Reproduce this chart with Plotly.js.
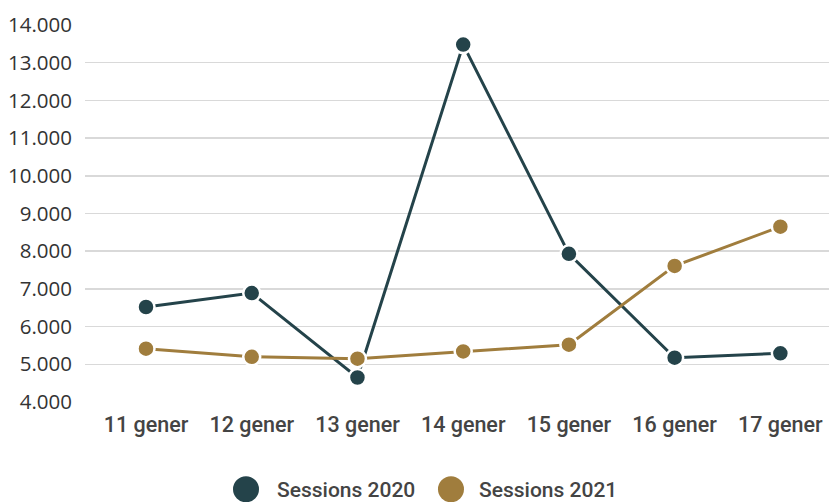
<!DOCTYPE html>
<html>
<head>
<meta charset="utf-8">
<script src="https://cdn.plot.ly/plotly-3.0.1.min.js"></script>
<style>html,body{margin:0;padding:0;background:#fff;}#chart{width:829px;height:502px;}</style>
</head>
<body>
<div id="chart"></div>
<script>
const categories = ["11 gener", "12 gener", "13 gener", "14 gener", "15 gener", "16 gener", "17 gener"];
const seriesNames = ["Sessions 2020", "Sessions 2021"];
const sessions2020 = [6520, 6890, 4650, 13480, 7930, 5175, 5290];
const sessions2021 = [5415, 5200, 5150, 5340, 5520, 7610, 8650];
const colors = ["#24434a", "#a07d3d"];

const seriesValues = [sessions2020, sessions2021];
const traces = seriesValues.map((vals, i) => ({
  type: "scatter",
  mode: "lines+markers",
  name: seriesNames[i],
  x: categories,
  y: vals,
  line: {color: colors[i], width: 3},
  marker: {color: colors[i], size: 17, line: {color: "#ffffff", width: 2.5}},
  cliponaxis: false,
  showlegend: false,
  hoverinfo: "x+y"
}));

// Manual legend (large circles)
const legendX = [0.2164, 0.4919];
const legendTextX = [0.2557, 0.5269];
const legendY = -0.2315;
const shapes = legendX.map((x, i) => ({
  type: "circle", xref: "paper", yref: "paper",
  xsizemode: "pixel", ysizemode: "pixel",
  xanchor: x, yanchor: legendY,
  x0: -13, x1: 13, y0: -13, y1: 13,
  fillcolor: colors[i], line: {width: 0}
}));
const annotations = legendTextX.map((x, i) => ({
  xref: "paper", yref: "paper", x: x, y: legendY - 0.003, xanchor: "left", yanchor: "middle",
  text: seriesNames[i], showarrow: false,
  font: {family: "Roboto", size: 21, color: "#444444", weight: 500}
}));

const layout = {
  width: 829, height: 502,
  margin: {l: 85, r: 0, t: 24.5, b: 99.5},
  paper_bgcolor: "#ffffff", plot_bgcolor: "#ffffff",
  separators: ",.",
  showlegend: false,
  xaxis: {
    type: "category",
    range: [-0.577, 6.46],
    showgrid: false, zeroline: false, showline: false,
    ticks: "", ticklabelstandoff: 7,
    tickfont: {family: "Roboto", size: 21.5, color: "#444444", weight: 500}
  },
  yaxis: {
    range: [4000, 14000],
    tickvals: [4000, 5000, 6000, 7000, 8000, 9000, 10000, 11000, 12000, 13000, 14000],
    tickformat: ",d",
    showgrid: true, gridcolor: "#d9d9d9", gridwidth: 1.5,
    zeroline: false, showline: false,
    ticks: "", ticklabelstandoff: 12,
    tickfont: {family: "Open Sans", size: 20.5, color: "#333333"}
  },
  shapes: shapes,
  annotations: annotations
};

Plotly.newPlot("chart", traces, layout, {displayModeBar: false, staticPlot: true});
</script>
</body>
</html>
